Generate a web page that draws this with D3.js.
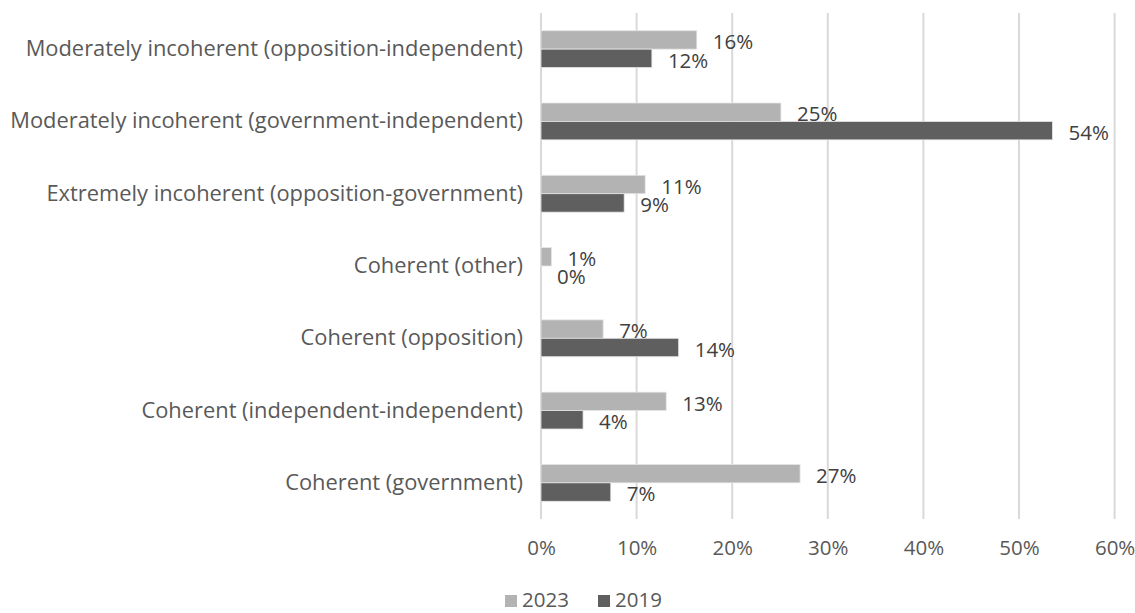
<!DOCTYPE html>
<html>
<head>
<meta charset="utf-8">
<script src="https://cdn.jsdelivr.net/npm/d3@7"></script>
<style>
  body { margin: 0; background: #fff; }
  text { font-family: "Open Sans", "Liberation Sans", sans-serif; }
</style>
</head>
<body>
<svg id="chart"></svg>
<script>
// categories, top to bottom
const categories = [
    "Moderately incoherent (opposition-independent)",
    "Moderately incoherent (government-independent)",
    "Extremely incoherent (opposition-government)",
    "Coherent (other)",
    "Coherent (opposition)",
    "Coherent (independent-independent)",
    "Coherent (government)"
]
const years = ["2023", "2019"]
const values2023 = [16.3, 25.1, 10.9, 1.1, 6.5, 13.1, 27.1]
const values2019 = [11.6, 53.5, 8.7, 0.0, 14.4, 4.4, 7.3]
const xTicks = [0, 10, 20, 30, 40, 50, 60]

const colors = {"2023": "#b3b3b3", "2019": "#5f5f5f"}

const W = 1135, H = 613
const svg = d3.select("#chart").attr("width", W).attr("height", H)

// plot area
const plot = {left: 541, right: 1114.6, top: 13, bottom: 519}

const x = d3.scaleLinear().domain([0, 60]).range([plot.left, plot.right])
const y = d3.scaleBand().domain(categories).range([plot.top, plot.bottom]).paddingInner(0.49).paddingOuter(0.245)
const ySub = d3.scaleBand().domain(years).range([0, y.bandwidth()])

// gridlines
svg.append("g")
    .selectAll("line")
    .data(xTicks)
    .join("line")
    .attr("x1", d => x(d)).attr("x2", d => x(d))
    .attr("y1", plot.top).attr("y2", plot.bottom)
    .attr("stroke", "#d9d9d9")
    .attr("stroke-width", 2)

// x axis labels
const xAxis = svg.append("g")
    .attr("transform", `translate(0,${plot.bottom})`)
    .call(d3.axisBottom(x).tickValues(xTicks).tickFormat(d => d + "%").tickSize(0).tickPadding(21))
xAxis.select(".domain").remove()
xAxis.selectAll("text")
    .attr("fill", "#595959")
    .style("font-size", "20.5px")

// category labels
const yAxis = svg.append("g")
    .attr("transform", `translate(${plot.left},0)`)
    .call(d3.axisLeft(y).tickSize(0).tickPadding(18))
yAxis.select(".domain").remove()
const catText = yAxis.selectAll("text")
    .attr("fill", "#595959")
    .style("font-size", "18px")

// fit label font to the reference width of the longest label
let longest = 0
catText.each(function() { longest = Math.max(longest, this.getComputedTextLength()) })
const fs = 18 * 513 / longest
catText.style("font-size", fs + "px")

// bars
const rows = categories.map((c, i) => ({
    label: c,
    vals: [{year: "2023", value: values2023[i]}, {year: "2019", value: values2019[i]}]
}))

const group = svg.selectAll("g.cat")
    .data(rows)
    .join("g")
    .attr("class", "cat")
    .attr("transform", d => `translate(0,${y(d.label)})`)

group.selectAll("rect")
    .data(d => d.vals)
    .join("rect")
    .attr("x", x(0))
    .attr("y", d => ySub(d.year))
    .attr("width", d => x(d.value) - x(0))
    .attr("height", ySub.bandwidth())
    .attr("fill", d => colors[d.year])
    .attr("stroke", "#e6e6e6")
    .attr("stroke-width", 0.8)

group.selectAll("text")
    .data(d => d.vals)
    .join("text")
    .attr("x", d => x(d.value) + 16)
    .attr("y", d => ySub(d.year) + ySub.bandwidth() / 2 + 2)
    .attr("dy", "0.35em")
    .attr("fill", "#404040")
    .style("font-size", "20.5px")
    .text(d => Math.round(d.value) + "%")

// legend
const legendX = [505, 598]
const legend = svg.append("g")
    .selectAll("g")
    .data(years)
    .join("g")
    .attr("transform", (d, i) => `translate(${legendX[i]},600)`)

legend.append("rect")
    .attr("x", 0).attr("y", -5)
    .attr("width", 12).attr("height", 12)
    .attr("fill", d => colors[d])

legend.append("text")
    .attr("x", 17)
    .attr("dy", "0.35em")
    .attr("fill", "#595959")
    .style("font-size", "20.5px")
    .text(d => d)
</script>
</body>
</html>
